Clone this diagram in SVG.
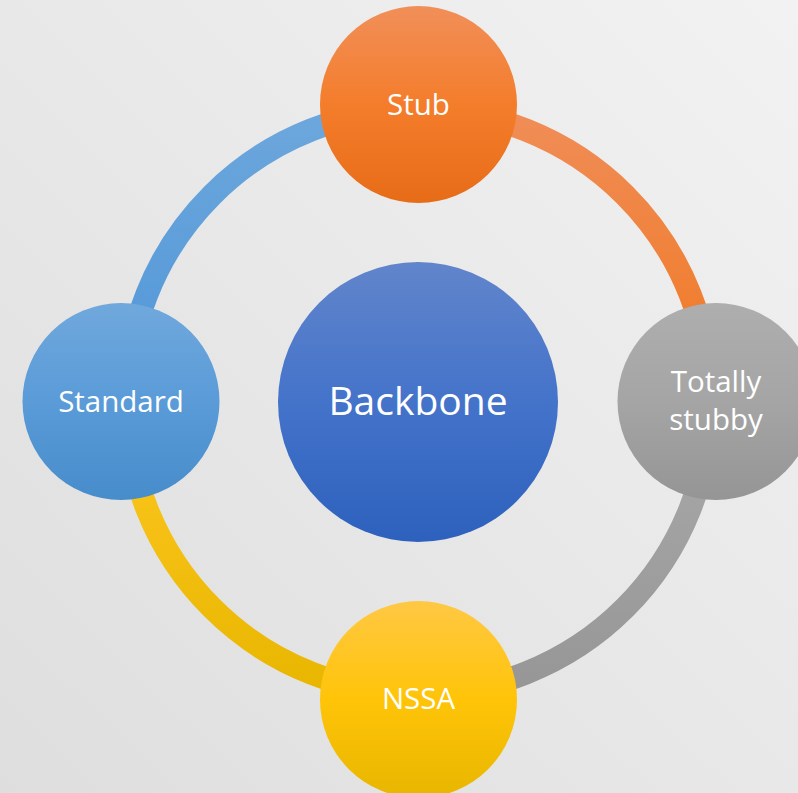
<svg xmlns="http://www.w3.org/2000/svg" width="798" height="793" viewBox="0 0 798 793">
  <defs>
    <linearGradient id="bg" x1="1" y1="0" x2="0" y2="1">
      <stop offset="0" stop-color="#F2F2F2"/>
      <stop offset="1" stop-color="#DEDEDE"/>
    </linearGradient>
    <linearGradient id="gStub" x1="0" y1="0" x2="0" y2="1">
      <stop offset="0" stop-color="#F18F59"/>
      <stop offset="0.5" stop-color="#F47D2B"/>
      <stop offset="1" stop-color="#E76C18"/>
    </linearGradient>
    <linearGradient id="gStd" x1="0" y1="0" x2="0" y2="1">
      <stop offset="0" stop-color="#70A8DC"/>
      <stop offset="0.5" stop-color="#5A9BD8"/>
      <stop offset="1" stop-color="#478CCB"/>
    </linearGradient>
    <linearGradient id="gBack" x1="0" y1="0" x2="0" y2="1">
      <stop offset="0" stop-color="#6185CB"/>
      <stop offset="0.5" stop-color="#4473CA"/>
      <stop offset="1" stop-color="#2D61BD"/>
    </linearGradient>
    <linearGradient id="gTot" x1="0" y1="0" x2="0" y2="1">
      <stop offset="0" stop-color="#AEAEAE"/>
      <stop offset="0.5" stop-color="#A5A5A5"/>
      <stop offset="1" stop-color="#959595"/>
    </linearGradient>
    <linearGradient id="gNssa" x1="0" y1="0" x2="0" y2="1">
      <stop offset="0" stop-color="#FFC844"/>
      <stop offset="0.5" stop-color="#FFC408"/>
      <stop offset="1" stop-color="#E8B600"/>
    </linearGradient>
    <linearGradient id="aBlue" gradientUnits="userSpaceOnUse" x1="0" y1="108" x2="0" y2="401">
      <stop offset="0" stop-color="#6DA7DC"/>
      <stop offset="1" stop-color="#4F96D8"/>
    </linearGradient>
    <linearGradient id="aOrange" gradientUnits="userSpaceOnUse" x1="0" y1="108" x2="0" y2="401">
      <stop offset="0" stop-color="#F08D58"/>
      <stop offset="1" stop-color="#F07820"/>
    </linearGradient>
    <linearGradient id="aGray" gradientUnits="userSpaceOnUse" x1="0" y1="401" x2="0" y2="694">
      <stop offset="0" stop-color="#AAAAAA"/>
      <stop offset="1" stop-color="#969696"/>
    </linearGradient>
    <linearGradient id="aYellow" gradientUnits="userSpaceOnUse" x1="0" y1="401" x2="0" y2="694">
      <stop offset="0" stop-color="#FFC822"/>
      <stop offset="1" stop-color="#E8B600"/>
    </linearGradient>
  </defs>
  <style>
    .arc { fill: none; stroke-width: 23; }
    .lbl { font-family: "Open Sans", "Noto Sans", "Liberation Sans", sans-serif; fill: #FFFFFF; text-anchor: middle; font-size: 29.5px; }
    .big { font-size: 39px; }
  </style>
  <rect x="0" y="0" width="798" height="793" fill="url(#bg)"/>
  <g id="connectors">
    <path class="arc" stroke="url(#aBlue)" d="M126.5 401.5 A292 292 0 0 1 418.5 109.5"/>
    <path class="arc" stroke="url(#aOrange)" d="M418.5 109.5 A292 292 0 0 1 710.5 401.5"/>
    <path class="arc" stroke="url(#aGray)" d="M710.5 401.5 A292 292 0 0 1 418.5 693.5"/>
    <path class="arc" stroke="url(#aYellow)" d="M418.5 693.5 A292 292 0 0 1 126.5 401.5"/>
  </g>
  <g id="backbone">
    <circle cx="418" cy="402" r="140" fill="url(#gBack)"/>
    <text class="lbl big" x="418" y="415">Backbone</text>
  </g>
  <g id="stub">
    <circle cx="418.5" cy="104.5" r="98.5" fill="url(#gStub)"/>
    <text class="lbl" x="418.5" y="115">Stub</text>
  </g>
  <g id="totally-stubby">
    <circle cx="716" cy="401.5" r="98.5" fill="url(#gTot)"/>
    <text class="lbl" x="716" y="392">Totally</text>
    <text class="lbl" x="716" y="430">stubby</text>
  </g>
  <g id="nssa">
    <circle cx="418.5" cy="699.5" r="98.5" fill="url(#gNssa)"/>
    <text class="lbl" x="418.5" y="709">NSSA</text>
  </g>
  <g id="standard">
    <circle cx="121" cy="401.5" r="98.5" fill="url(#gStd)"/>
    <text class="lbl" x="121" y="411.5">Standard</text>
  </g>
</svg>
